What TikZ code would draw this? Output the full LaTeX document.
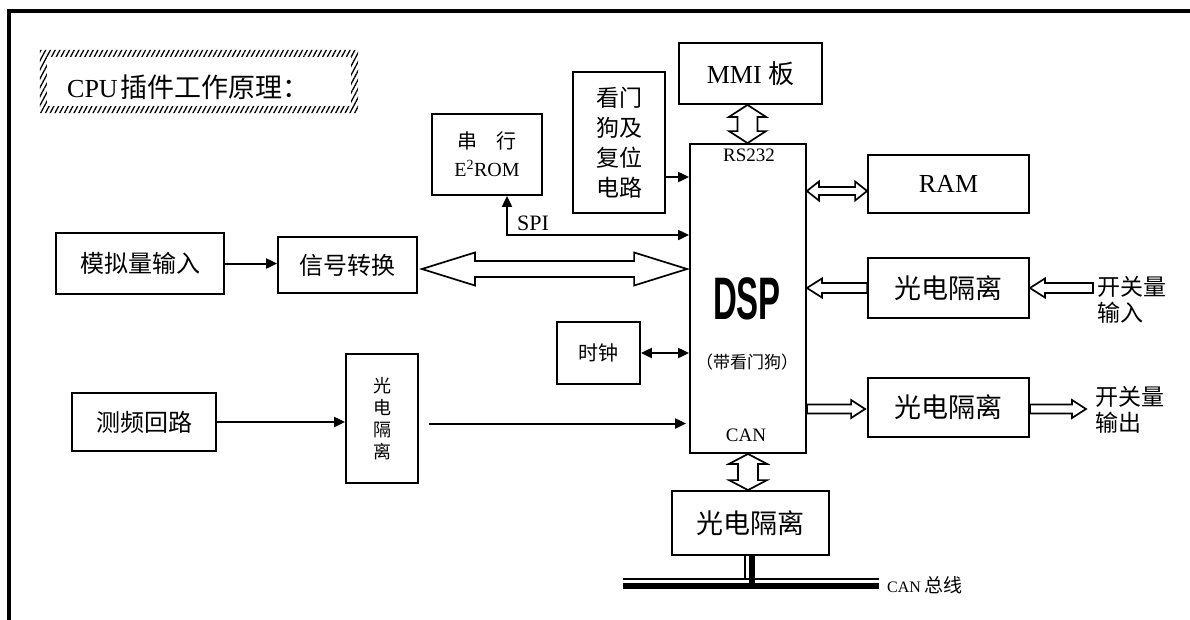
\documentclass[tikz,border=0pt]{standalone}
\usepackage{fontspec}
\setmainfont{Liberation Serif}
\newfontfamily\cjk{Noto Sans CJK SC}
\newfontfamily\dspfont{Liberation Sans}
\usetikzlibrary{arrows.meta,patterns.meta,calc}
\newcommand\fsz[2]{\fontsize{#1}{#2}\selectfont}
% hollow double arrow, horizontal: #1 left tip, #2 right tip, #3 head half, #4 shaft half, #5 head length
\newcommand\hdbl[5]{\path[hollow] let \p1=(#1), \p2=(#2) in
 (\x1,\y1) -- ({\x1+#5},{\y1+#3}) -- ({\x1+#5},{\y1+#4}) -- ({\x2-#5},{\y1+#4}) -- ({\x2-#5},{\y1+#3}) -- (\x2,\y1) -- ({\x2-#5},{\y1-#3}) -- ({\x2-#5},{\y1-#4}) -- ({\x1+#5},{\y1-#4}) -- ({\x1+#5},{\y1-#3}) -- cycle;}
% hollow single arrow, horizontal: #1 tail, #2 tip (signed head length #5)
\newcommand\hsgl[5]{\path[hollow] let \p1=(#1), \p2=(#2) in
 (\x1,{\y1+#4}) -- ({\x2-(#5)},{\y1+#4}) -- ({\x2-(#5)},{\y1+#3}) -- (\x2,\y1) -- ({\x2-(#5)},{\y1-#3}) -- ({\x2-(#5)},{\y1-#4}) -- (\x1,{\y1-#4}) -- cycle;}
% hollow double arrow, vertical: #1 top tip, #2 bottom tip
\newcommand\vdbl[5]{\path[hollow] let \p1=(#1), \p2=(#2) in
 (\x1,\y1) -- ({\x1+#3},{\y1-#5}) -- ({\x1+#4},{\y1-#5}) -- ({\x1+#4},{\y2+#5}) -- ({\x1+#3},{\y2+#5}) -- (\x1,\y2) -- ({\x1-#3},{\y2+#5}) -- ({\x1-#4},{\y2+#5}) -- ({\x1-#4},{\y1-#5}) -- ({\x1-#3},{\y1-#5}) -- cycle;}
\begin{document}
\begin{tikzpicture}[x=1pt,y=-1pt,
 box/.style={draw,line width=1.8pt,inner sep=0pt},
 arr/.style={line width=2pt,-{Triangle[length=11pt,width=10pt]}},
 arrb/.style={line width=2pt,{Triangle[length=11pt,width=10pt]}-{Triangle[length=11pt,width=10pt]}},
 hollow/.style={draw,line width=1.7pt,fill=white,line join=miter}]
\useasboundingbox (0,0) rectangle (1190,619);
\fill[white] (0,0) rectangle (1190,619);
% frame
\draw[line width=4pt,line join=miter] (9,625) -- (9,10.5) -- (1195,10.5);
% title
\node[minimum width=318pt,minimum height=63pt,inner sep=0pt] (tbox) at (199,81.5) {};
\fill[pattern={Lines[angle=62,distance=4.2pt,line width=1.3pt]},even odd rule]
 (tbox.south west) rectangle (tbox.north east)
 ($(tbox.south west)+(7,-7)$) rectangle ($(tbox.north east)+(-7,7)$);
\node[anchor=west,inner sep=0pt] (ttl) at (67,87) {{\fsz{26}{26}CPU}\hspace{3pt}{\cjk\fsz{27}{27}插件工作原理：}};
% boxes
\node[box,minimum width=143pt,minimum height=61pt,font=\fsz{26}{30}] (mmi) at (750.5,73.5) {MMI {\cjk\fsz{26}{30}板}};
\node[box,minimum width=92pt,minimum height=141pt,align=center,font=\cjk\fsz{23}{30}] (wd) at (619,142.5) {看门\\狗及\\复位\\电路};
\node[box,minimum width=110pt,minimum height=81pt,align=center,font=\fsz{20}{28}] (e2rom) at (487,154.5) {{\cjk 串\hspace{19pt}行}\\E\textsuperscript{2}ROM};
\node[box,minimum width=116pt,minimum height=309pt] (dsp) at (748,298.5) {};
\node[font=\fsz{19}{19},inner sep=0pt] (rs) at (749,155) {RS232};
\node[font=\dspfont\bfseries\fsz{60}{60},inner sep=0pt] (dspt) at (747,299) {\scalebox{0.55}[1]{DSP}};
\node[font=\cjk\fsz{17}{17},inner sep=0pt] (wdog) at (747,362) {（带看门狗）};
\node[font=\fsz{19}{19},inner sep=0pt] (cant) at (746,435) {CAN};
\node[box,minimum width=161pt,minimum height=58pt,font=\fsz{26}{30}] (ram) at (948.5,184) {RAM};
\node[box,minimum width=161pt,minimum height=60pt,font=\cjk\fsz{27}{30}] (oin) at (948.5,288) {光电隔离};
\node[box,minimum width=161pt,minimum height=59pt,font=\cjk\fsz{27}{30}] (oout) at (948.5,407.5) {光电隔离};
\node[box,minimum width=157pt,minimum height=64pt,font=\cjk\fsz{27}{30}] (ocan) at (750.5,523) {光电隔离};
\node[box,minimum width=168pt,minimum height=61pt,font=\cjk\fsz{24}{28}] (analog) at (140,263.5) {模拟量输入};
\node[box,minimum width=139pt,minimum height=56pt,font=\cjk\fsz{24}{28}] (sig) at (347.5,265) {信号转换};
\node[box,minimum width=83pt,minimum height=62pt,font=\cjk\fsz{20}{24}] (clk) at (598.5,353) {时钟};
\node[box,minimum width=144pt,minimum height=58pt,font=\cjk\fsz{24}{28}] (freq) at (144,422) {测频回路};
\node[box,minimum width=72pt,minimum height=129pt,align=center,font=\cjk\fsz{18}{22}] (oiso) at (382,418.5) {光\\电\\隔\\离};
\node[anchor=west,align=left,font=\cjk\fsz{23}{26},inner sep=0pt] (inlab) at (1097,300) {开关量\\输入};
\node[anchor=west,align=left,font=\cjk\fsz{23}{26},inner sep=0pt] (outlab) at (1095,410) {开关量\\输出};
\node[font=\fsz{22}{22},inner sep=0pt] (spi) at (533,223) {SPI};
% thin arrows
\draw[arr] (analog.east) -- (analog.east -| sig.west);
\draw[arr] ($(wd.east)+(0,34.5)$) -- ($(wd.east -| dsp.west)+(0,34.5)$);
\draw[arrb] ($(e2rom.south)+(20,0)$) |- ($(dsp.west)+(0,-63.5)$);
\draw[arrb] (clk.east) -- (clk.east -| dsp.west);
\draw[arr] (freq.east) -- (freq.east -| oiso.west);
\draw[arr] ($(oiso.east)+(10,5)$) -- ($(oiso.east -| dsp.west)+(-3,5)$);
% hollow arrows
\vdbl{$(mmi.south)+(-3,0)$}{dsp.north}{18.5pt}{10pt}{12pt}
\hdbl{$(sig.east)+(4,4)$}{$(dsp.west)+(-2,0)$}{16.5pt}{8pt}{53pt}
\hdbl{$(dsp.east |- ram.west)+(0,7)$}{ram.west}{9.5pt}{4pt}{12pt}
\hsgl{oin.west}{dsp.east |- oin.west}{9.5pt}{5pt}{-15pt}
\hsgl{$(inlab.west |- oin.east)+(-4,0)$}{oin.east}{9.5pt}{5pt}{-15pt}
\hsgl{$(dsp.east |- oout.west)+(0,1.5)$}{$(oout.west)+(-2,0)$}{9pt}{4.5pt}{14pt}
\hsgl{$(oout.east)+(0,1.5)$}{$(outlab.west |- oout.east)+(-9,0)$}{9pt}{4.5pt}{14pt}
\vdbl{dsp.south}{ocan.north}{19pt}{10pt}{10pt}
% CAN bus
\coordinate (busL) at (623,582);
\coordinate (busR) at (879,582);
\draw[line width=1.8pt] ($(busL)+(0,-3)$) -- ($(busR)+(0,-3)$);
\draw[line width=6.5pt] ($(busL)+(0,4)$) -- ($(busR)+(0,4)$);
\draw[line width=1.8pt] ($(ocan.south)+(-5.5,0)$) -- ($(ocan.south |- busL)+(-5.5,-3)$);
\draw[line width=6.5pt] ($(ocan.south)+(1.5,0)$) -- ($(ocan.south |- busL)+(1.5,4)$);
\node[anchor=west,font=\fsz{16}{16},inner sep=0pt] (canbus) at (887,585) {CAN {\cjk\fsz{19}{19}总线}};
\end{tikzpicture}
\end{document}
